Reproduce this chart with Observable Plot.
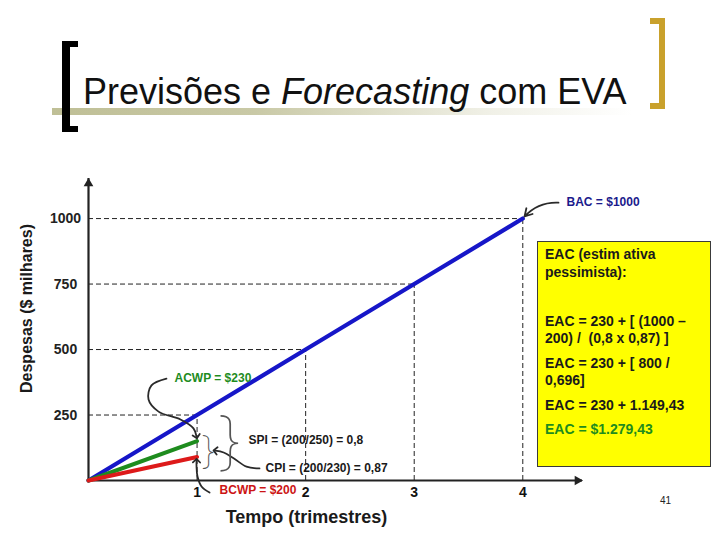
<!DOCTYPE html>
<html>
<head>
<meta charset="utf-8">
<script src="https://cdn.jsdelivr.net/npm/d3@7"></script>
<script src="https://cdn.jsdelivr.net/npm/@observablehq/plot@0.6"></script>
<style>
  html, body { margin: 0; padding: 0; background: #fff; }
  #page { position: relative; width: 720px; height: 540px; overflow: hidden;
          font-family: 'Liberation Sans', Arial, sans-serif; }
  #header { position: relative; height: 140px; }
  .abs { position: absolute; }
  #underline { left: 52px; top: 108px; width: 580px; height: 7px;
    background: linear-gradient(to right, #bfbf96 0%, #c9c9a6 35%, rgba(225,225,205,0.5) 75%, rgba(255,255,255,0) 100%); }
  #title { left: 83px; top: 72px; font-size: 36px; line-height: 40px; color: #111; white-space: nowrap; }
  .lb { background: #000; }
  .rb { background: #c9a12c; }
  #chart svg { display: block; }
  #eac { left: 537px; top: 241px; width: 174px; height: 226px; box-sizing: border-box;
         border: 1px solid #3a3a3a; background: #ffff00; padding: 4px 0 0 7px;
         font-size: 14px; font-weight: bold; color: #1a1a1a; }
  #eac .p { margin-bottom: 7px; }
  #eac .l { line-height: 17.5px; height: 17.5px; white-space: pre; }
  #pageno { left: 660px; top: 495px; font-size: 10px; line-height: 12px; color: #222; }
</style>
</head>
<body>
<div id="page">
  <div id="header">
    <div class="abs" id="underline"></div>
    <div class="abs lb" style="left:62px;top:41px;width:8px;height:91px;"></div>
    <div class="abs lb" style="left:62px;top:41px;width:16px;height:6px;"></div>
    <div class="abs lb" style="left:62px;top:126px;width:16px;height:6px;"></div>
    <div class="abs rb" style="left:659px;top:18px;width:6px;height:91px;"></div>
    <div class="abs rb" style="left:650px;top:18px;width:15px;height:6px;"></div>
    <div class="abs rb" style="left:650px;top:103px;width:15px;height:6px;"></div>
    <div class="abs" id="title">Previsões e <i>Forecasting</i> com EVA</div>
  </div>
  <div id="chart"></div>
  <div class="abs" id="eac"></div>
  <div class="abs" id="pageno">41</div>
</div>
<script>
// ---- data ----
const quarters = [0, 1, 2, 3, 4];
const plannedValue = [0, 250, 500, 750, 1000];      // BCWS line (blue)
const statusQuarters = [0, 1];
const actualCost = [0, 150];                        // ACWP line (green), as drawn
const earnedValue = [0, 90];                        // BCWP line (red), as drawn
const xTicks = [1, 2, 3, 4];
const yTicks = [250, 500, 750, 1000];
const xLabel = "Tempo (trimestres)";
const yLabel = "Despesas ($ milhares)";

// annotation labels (anchored in data units)
const noteText = ["BAC = $1000", "ACWP = $230", "BCWP = $200", "SPI = (200/250) = 0,8", "CPI = (200/230) = 0,87"];
const noteT = [4.403, 0.792, 1.207, 1.474, 1.630];
const noteV = [1061, 389, -38, 153, 46];

// annotation pointer paths (data units)
const acwpPathT = [0.718, 0.580, 0.553, 0.645, 0.847, 0.967, 0.995];
const acwpPathV = [389, 363, 309, 263, 233, 199, 168];
const bcwpPathT = [1.115, 1.041, 1.004, 0.995, 0.995];
const bcwpPathV = [-46, -23, 15, 53, 76];
const cpiPathT = [1.575, 1.455, 1.340, 1.245, 1.168];
const cpiPathV = [46, 53, 84, 107, 114];
const bacArrow = {t1: 4.329, v1: 1061, t2: 4.016, v2: 1008};

// braces grouping the indices
const braceT = [1.295, 1.100];
const braceV = [152, 113];
const braceSize = [64, 38];

// EAC box text
const eacParagraphs = [
  ["EAC (estim ativa", "pessimista):"],
  [""],
  ["EAC = 230 + [ (1000 –", "200) /  (0,8 x 0,87) ]"],
  ["EAC = 230 + [ 800 /", "0,696]"],
  ["EAC = 230 + 1.149,43"],
  ["EAC = $1.279,43"]
];

// ---- build ----
const xMax = 4.55, yMax = 1153;
const colors = {blue: "#1616c8", green: "#1e8c1e", red: "#dd1a1a", ink: "#222", navy: "#1a1a8c"};
const noteColor = [colors.navy, colors.green, "#cc1414", "#1a1a1a", "#1a1a1a"];

const blue = quarters.map((t, i) => ({t, v: plannedValue[i]}));
const green = statusQuarters.map((t, i) => ({t, v: actualCost[i]}));
const red = statusQuarters.map((t, i) => ({t, v: earnedValue[i]}));
const crossings = blue.filter(d => d.t > 0);
const notes = noteText.map((text, i) => ({text, t: noteT[i], v: noteV[i], c: noteColor[i]}));
const toPts = (T, V) => T.map((t, i) => ({t, v: V[i]}));
const braces = braceT.map((t, i) => ({t, v: braceV[i], s: braceSize[i]}));

const font = "'Liberation Sans', Arial, sans-serif";
const dash = {stroke: colors.ink, strokeWidth: 1, strokeDasharray: "5,3"};
const pointer = {x: "t", y: "v", curve: "catmull-rom", stroke: "#2a2a2a", strokeWidth: 1.8, markerEnd: "arrow"};

const chart = Plot.plot({
  width: 720, height: 400,
  marginLeft: 88, marginRight: 138, marginTop: 38, marginBottom: 60,
  x: {domain: [0, xMax]},
  y: {domain: [0, yMax]},
  style: {fontFamily: font, background: "transparent", overflow: "visible"},
  marks: [
    Plot.ruleY(crossings, {y: "v", x1: 0, x2: "t", ...dash}),
    Plot.ruleX(crossings, {x: "t", y1: 0, y2: "v", ...dash}),
    Plot.ruleX([0], {y1: 0, y2: yMax, stroke: colors.ink, strokeWidth: 2.2}),
    Plot.ruleY([0], {x1: 0, x2: xMax, stroke: colors.ink, strokeWidth: 2.2}),
    Plot.dot([0], {x: 0, y: yMax, symbol: "triangle", r: 3.6, fill: colors.ink, dy: 5}),
    Plot.dot([0], {x: xMax, y: 0, symbol: "triangle", rotate: 90, r: 3.6, fill: colors.ink, dx: -5}),
    Plot.line(blue, {x: "t", y: "v", stroke: colors.blue, strokeWidth: 4.2}),
    Plot.line(green, {x: "t", y: "v", stroke: colors.green, strokeWidth: 4}),
    Plot.line(red, {x: "t", y: "v", stroke: colors.red, strokeWidth: 4}),
    Plot.axisY({ticks: yTicks, tickSize: 0, tickPadding: 23, textAnchor: "middle", fontSize: 14,
                fontWeight: "bold", color: colors.ink, label: null, tickFormat: d => `${d}`}),
    Plot.axisX({ticks: xTicks, tickSize: 0, tickPadding: 7, fontSize: 14,
                fontWeight: "bold", color: "#111", label: null, tickFormat: d => `${d}`}),
    Plot.arrow([bacArrow], {x1: "t1", y1: "v1", x2: "t2", y2: "v2", bend: -25, headLength: 7,
                            stroke: "#2a2a2a", strokeWidth: 1.8}),
    Plot.line(toPts(acwpPathT, acwpPathV), pointer),
    Plot.line(toPts(bcwpPathT, bcwpPathV), pointer),
    Plot.line(toPts(cpiPathT, cpiPathV), pointer),
    Plot.text(braces, {x: "t", y: "v", text: () => "}", fontSize: "s", fontFamily: "Noto Sans",
                       fontWeight: 100, fill: "#555", textAnchor: "middle", lineAnchor: "middle"}),
    Plot.text(notes, {x: "t", y: "v", text: "text", fill: "c", fontSize: 12, fontWeight: "bold",
                      textAnchor: "start", lineAnchor: "middle"}),
    Plot.text([yLabel], {frameAnchor: "left", rotate: -90, dx: -62, dy: -21, fontSize: 16,
                         fontWeight: "bold", fill: "#1a1a1a", textAnchor: "middle", lineAnchor: "middle"}),
    Plot.text([xLabel], {frameAnchor: "bottom", dx: -29, dy: 37, fontSize: 18,
                         fontWeight: "bold", fill: "#1a1a1a", textAnchor: "middle", lineAnchor: "middle"})
  ]
});
document.getElementById("chart").appendChild(chart);

const box = document.getElementById("eac");
eacParagraphs.forEach((p, i) => {
  const div = document.createElement("div");
  div.className = "p";
  if (i === eacParagraphs.length - 1) div.style.color = colors.green;
  p.forEach(line => {
    const l = document.createElement("div");
    l.className = "l";
    l.textContent = line;
    div.appendChild(l);
  });
  box.appendChild(div);
});
</script>
</body>
</html>
